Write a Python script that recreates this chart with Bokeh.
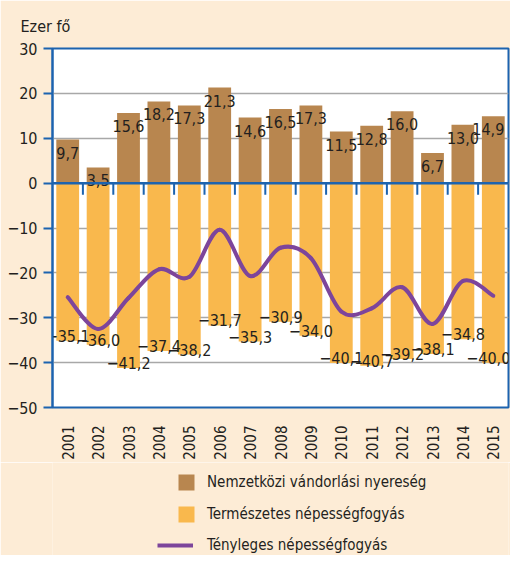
import math
from bokeh.plotting import figure
from bokeh.layouts import column
from bokeh.models import (ColumnDataSource, Range1d, FixedTicker, Span, Legend,
                          LegendItem)
from bokeh.core.properties import value
from bokeh.embed import file_html
from bokeh.resources import INLINE

# ---------------- data ----------------
years = ["2001", "2002", "2003", "2004", "2005", "2006", "2007", "2008",
         "2009", "2010", "2011", "2012", "2013", "2014", "2015"]
migration = [9.7, 3.5, 15.6, 18.2, 17.3, 21.3, 14.6, 16.5, 17.3, 11.5, 12.8,
             16.0, 6.7, 13.0, 14.9]
natural = [-35.1, -36.0, -41.2, -37.4, -38.2, -31.7, -35.3, -30.9, -34.0,
           -40.1, -40.7, -39.2, -38.1, -34.8, -40.0]
actual = [-25.4, -32.5, -25.6, -19.2, -20.9, -10.4, -20.7, -14.4, -16.7,
          -28.6, -27.9, -23.2, -31.4, -21.8, -25.1]
y_ticks = [-50, -40, -30, -20, -10, 0, 10, 20, 30]
unit_label = "Ezer fő"
series_names = ["Nemzetközi vándorlási nyereség", "Természetes népességfogyás",
                "Tényleges népességfogyás"]

# ---------------- style ----------------
FONT = "DejaVu Sans Condensed"
TXT = "#231F20"
BG = "#FDECD6"
BLUE = "#1C63AF"
BROWN = "#B8864F"
ORANGE = "#F9B84D"
PURPLE = "#7D459B"
GRID = "#A8A8A8"
FS = "16px"


def fmt(v):
    return f"{v:.1f}".replace(".", ",").replace("-", "\u2212")


xs = list(range(1, len(years) + 1))
# keep the last labels inside the frame
lbl_shift = [0] * (len(years) - 1) + [-5]

p = figure(width=510, height=462, output_backend="svg", toolbar_location=None,
           x_range=Range1d(0.5, len(years) + 0.5), y_range=Range1d(-50, 30),
           min_border_left=52, min_border_right=2, min_border_top=48,
           min_border_bottom=52)
p.border_fill_color = BG
p.background_fill_color = "white"
p.outline_line_color = BLUE
p.outline_line_width = 2

# title
p.title.text = unit_label
p.title.align = "left"
p.title.offset = -32
p.title.standoff = 26
p.title.text_font = FONT
p.title.text_font_size = FS
p.title.text_font_style = "normal"
p.title.text_color = TXT

# grid
p.xgrid.visible = False
p.ygrid.ticker = FixedTicker(ticks=y_ticks)
p.ygrid.grid_line_color = GRID
p.ygrid.grid_line_width = 1.5

# y axis
ya = p.yaxis[0]
ya.ticker = FixedTicker(ticks=y_ticks)
ya.major_label_overrides = {t: fmt(t).replace(",0", "") for t in y_ticks}
ya.axis_line_color = BLUE
ya.axis_line_width = 2
ya.major_tick_line_color = BLUE
ya.major_tick_line_width = 2
ya.major_tick_out = 9
ya.major_tick_in = 0
ya.minor_tick_line_color = None
ya.major_label_standoff = 6
ya.major_label_text_font = FONT
ya.major_label_text_font_size = FS
ya.major_label_text_color = TXT

# x axis
xa = p.xaxis[0]
xa.ticker = FixedTicker(ticks=xs)
xa.major_label_overrides = {x: y for x, y in zip(xs, years)}
xa.major_label_orientation = math.pi / 2
xa.axis_line_color = None
xa.major_tick_line_color = None
xa.major_tick_out = 0
xa.major_tick_in = 0
xa.minor_tick_line_color = None
xa.minor_tick_out = 0
xa.major_label_standoff = 18
xa.major_label_text_font = FONT
xa.major_label_text_font_size = "15px"
xa.major_label_text_color = TXT

src = ColumnDataSource(dict(
    x=xs, year=years, mig=migration, nat=natural, act=actual, dx=lbl_shift,
    mig_lbl=[fmt(v) for v in migration], nat_lbl=[fmt(v) for v in natural]))

p.vbar(x="x", top="mig", bottom=0, width=0.75, source=src,
       fill_color=BROWN, line_color=None)
p.vbar(x="x", top=0, bottom="nat", width=0.75, source=src,
       fill_color=ORANGE, line_color=None)

# zero axis line and category boundary ticks
p.add_layout(Span(location=0, dimension="width", line_color=BLUE, line_width=2.5))
bx = [i + 0.5 for i in range(1, len(years))]
p.segment(x0=bx, x1=bx, y0=[0] * len(bx), y1=[-2.6] * len(bx),
          line_color=BLUE, line_width=2)

# smooth line (cubic Bezier through the data points)
n = len(actual)
P = list(zip(xs, actual))
bx0, by0, bx1, by1, cx0, cy0, cx1, cy1 = [], [], [], [], [], [], [], []
for i in range(n - 1):
    p0 = P[i - 1] if i > 0 else P[i]
    p1 = P[i]
    p2_ = P[i + 1]
    p3 = P[i + 2] if i + 2 < n else P[i + 1]
    bx0.append(p1[0]); by0.append(p1[1])
    bx1.append(p2_[0]); by1.append(p2_[1])
    cx0.append(p1[0] + (p2_[0] - p0[0]) / 6); cy0.append(p1[1] + (p2_[1] - p0[1]) / 6)
    cx1.append(p2_[0] - (p3[0] - p1[0]) / 6); cy1.append(p2_[1] - (p3[1] - p1[1]) / 6)
p.bezier(x0=bx0, y0=by0, x1=bx1, y1=by1, cx0=cx0, cy0=cy0, cx1=cx1, cy1=cy1,
         line_color=PURPLE, line_width=4, line_cap="round")

# value labels
p.text(x="x", y="mig", text="mig_lbl", source=src, text_align="center",
       text_baseline="middle", y_offset=13, x_offset="dx", text_font=value(FONT),
       text_font_size=FS, text_color=TXT)
p.text(x="x", y="nat", text="nat_lbl", source=src, text_align="center",
       text_baseline="middle", y_offset=-5, x_offset="dx", text_font=value(FONT),
       text_font_size=FS, text_color=TXT)

# ---------------- legend strip ----------------
q = figure(width=510, height=93, output_backend="svg", toolbar_location=None,
           x_axis_type=None, y_axis_type=None,
           x_range=Range1d(0, 510), y_range=Range1d(0, 93),
           min_border=0, min_border_left=0, min_border_right=0,
           min_border_top=0, min_border_bottom=0)
q.grid.visible = False
q.outline_line_color = None
q.background_fill_color = BG
q.border_fill_color = BG
# zero-size proxies, only used for the legend swatches
lr_mig = q.vbar(x=[0], top=[0], bottom=[0], width=0, fill_color=BROWN,
                line_color=None)
lr_nat = q.vbar(x=[0], top=[0], bottom=[0], width=0, fill_color=ORANGE,
                line_color=None)
lr_act = q.line(x=[0, 0], y=[0, 0], line_color=PURPLE, line_width=4)

leg_common = dict(border_line_alpha=0, background_fill_alpha=0, padding=0,
                  margin=0, label_text_font=FONT, label_text_font_size="15px",
                  label_text_color=TXT, label_height=20, glyph_height=20)
# locations are relative to the frame, which the column aligns with the chart's
leg1 = Legend(items=[LegendItem(label=series_names[0], renderers=[lr_mig]),
                     LegendItem(label=series_names[1], renderers=[lr_nat])],
              location=(124, 31), spacing=12, glyph_width=20,
              label_standoff=11, **leg_common)
leg2 = Legend(items=[LegendItem(label=series_names[2], renderers=[lr_act])],
              location=(105, 0), glyph_width=36, label_standoff=14,
              **leg_common)
q.add_layout(leg1)
q.add_layout(leg2)

layout = column(p, q, spacing=0)
open("out.html", "w").write(file_html(layout, INLINE))
